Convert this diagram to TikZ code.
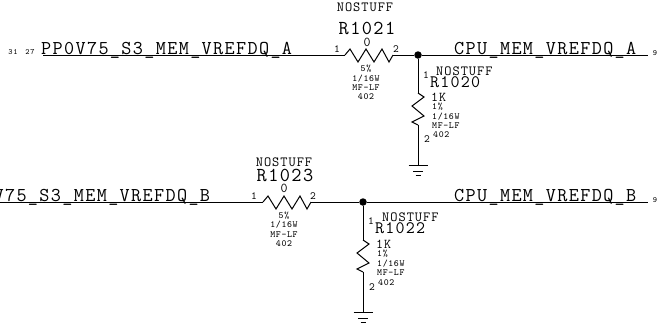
\documentclass[tikz,border=0pt]{standalone}
\usepackage{fontspec}
\setmainfont[LetterSpace=7]{Latin Modern Mono}
\begin{document}
\begin{tikzpicture}[x=1pt,y=-1pt,
	wirestyle/.style={line width=1pt},
	netstyle/.style={anchor=base west,inner sep=0,font=\fontsize{19.6}{20}\selectfont},
	refstyle/.style={inner sep=0,font=\fontsize{19.8}{20}\selectfont},
	vrefstyle/.style={anchor=west,inner sep=0,font=\fontsize{17.5}{18}\selectfont},
	stuffstyle/.style={inner sep=0,font=\fontsize{14}{15}\selectfont},
	valstyle/.style={inner sep=0,font=\fontsize{13.5}{14}\selectfont},
	tinystyle/.style={inner sep=0,font=\fontsize{9.4}{10}\selectfont},
	pinstyle/.style={inner sep=0,font=\fontsize{11}{12}\selectfont},
	pagestyle/.style={inner sep=0,font=\fontsize{8}{8}\selectfont},
	dotstyle/.style={circle,fill=black,inner sep=0,minimum size=7.5}]
\useasboundingbox (0,0) rectangle (670,327);
\begin{scope}
\coordinate (WA) at (43,55);
\coordinate (EA) at (648,55);
\coordinate (R1021a) at (345,55);
\coordinate (R1021b) at (393,55);
\node[dotstyle](JA) at (418,55){};
\coordinate (R1020a) at (418,93);
\coordinate (R1020b) at (418,125);
\coordinate (GA) at (418,165);
\node[netstyle](NA1) at (41,54.5){PP0V75\_S3\_MEM\_VREFDQ\_A};
\node[netstyle](NA2) at (454,54.5){CPU\_MEM\_VREFDQ\_A};
\node[pagestyle](PA1) at (13,52){31};
\node[pagestyle](PA2) at (30,52){27};
\node[pagestyle](PA3) at (655,53){9};
\node[stuffstyle](SA1) at (365,7){NOSTUFF};
\node[refstyle](RA1) at (367,28){R1021};
\node[valstyle](VA1) at (367,42){0};
\node[pinstyle](LA1) at (337,49){1};
\node[pinstyle](LA2) at (396,49){2};
\node[tinystyle](TA1) at (366,69){5\%};
\node[tinystyle](TA2) at (366,79){1/16W};
\node[tinystyle](TA3) at (366,88){MF-LF};
\node[tinystyle](TA4) at (366,97){402};
\node[stuffstyle,anchor=west](SA2) at (436,71){NOSTUFF};
\node[vrefstyle](RA2) at (430,82){R1020};
\node[valstyle,anchor=west](VA2) at (431,97){1K};
\node[pinstyle](LA3) at (426,75){1};
\node[pinstyle](LA4) at (427,139){2};
\node[tinystyle,anchor=west](TA5) at (432,107){1\%};
\node[tinystyle,anchor=west](TA6) at (432,117){1/16W};
\node[tinystyle,anchor=west](TA7) at (432,126){MF-LF};
\node[tinystyle,anchor=west](TA8) at (433,135){402};
\end{scope}
\begin{scope}
\coordinate (WB) at (0,202);
\coordinate (EB) at (648,202);
\coordinate (R1023a) at (263,202);
\coordinate (R1023b) at (311,202);
\node[dotstyle](JB) at (363,202){};
\coordinate (R1022a) at (363,240);
\coordinate (R1022b) at (363,272);
\coordinate (GB) at (363,312);
\node[netstyle](NB1) at (-41,201.5){PP0V75\_S3\_MEM\_VREFDQ\_B};
\node[netstyle](NB2) at (454,201.5){CPU\_MEM\_VREFDQ\_B};
\node[pagestyle](PB3) at (655,200){9};
\node[stuffstyle](SB1) at (284,162){NOSTUFF};
\node[refstyle](RB1) at (285,175){R1023};
\node[valstyle](VB1) at (284,188){0};
\node[pinstyle](LB1) at (254,196){1};
\node[pinstyle](LB2) at (313,196){2};
\node[tinystyle](TB1) at (284,216){5\%};
\node[tinystyle](TB2) at (284,225){1/16W};
\node[tinystyle](TB3) at (284,235){MF-LF};
\node[tinystyle](TB4) at (284,244){402};
\node[stuffstyle,anchor=west](SB2) at (382,217){NOSTUFF};
\node[vrefstyle](RB2) at (375,228){R1022};
\node[valstyle,anchor=west](VB2) at (376,244){1K};
\node[pinstyle](LB3) at (371,221){1};
\node[pinstyle](LB4) at (372,287){2};
\node[tinystyle,anchor=west](TB5) at (377,254){1\%};
\node[tinystyle,anchor=west](TB6) at (377,264){1/16W};
\node[tinystyle,anchor=west](TB7) at (377,273){MF-LF};
\node[tinystyle,anchor=west](TB8) at (378,283){402};
\end{scope}
\draw[wirestyle] (WA)--(R1021a);
\draw[wirestyle] (R1021a)--++(5,-6)--++(8,13)--++(8,-13)--++(8,13)--++(8,-13)--++(7,13)--(R1021b);
\draw[wirestyle] (R1021b)--(JA)--(EA);
\draw[wirestyle] (JA)--(R1020a);
\draw[wirestyle] (R1020a)--++(6,4)--++(-12,9)--++(12,10)--++(-12,6)--(R1020b);
\draw[wirestyle] (R1020b)--(GA);
\draw[wirestyle] (GA)++(-9.5,0)--++(19,0);
\draw[wirestyle] (GA)++(-5,6)--++(10,0);
\draw[wirestyle] (GA)++(-2.5,10)--++(5,0);
\draw[wirestyle] (WB)--(R1023a);
\draw[wirestyle] (R1023a)--++(5,-6)--++(8,13)--++(8,-13)--++(8,13)--++(8,-13)--++(7,13)--(R1023b);
\draw[wirestyle] (R1023b)--(JB)--(EB);
\draw[wirestyle] (JB)--(R1022a);
\draw[wirestyle] (R1022a)--++(6,4)--++(-12,9)--++(12,10)--++(-12,6)--(R1022b);
\draw[wirestyle] (R1022b)--(GB);
\draw[wirestyle] (GB)++(-9.5,0)--++(19,0);
\draw[wirestyle] (GB)++(-5,6)--++(10,0);
\draw[wirestyle] (GB)++(-2.5,10)--++(5,0);
\end{tikzpicture}
\end{document}
